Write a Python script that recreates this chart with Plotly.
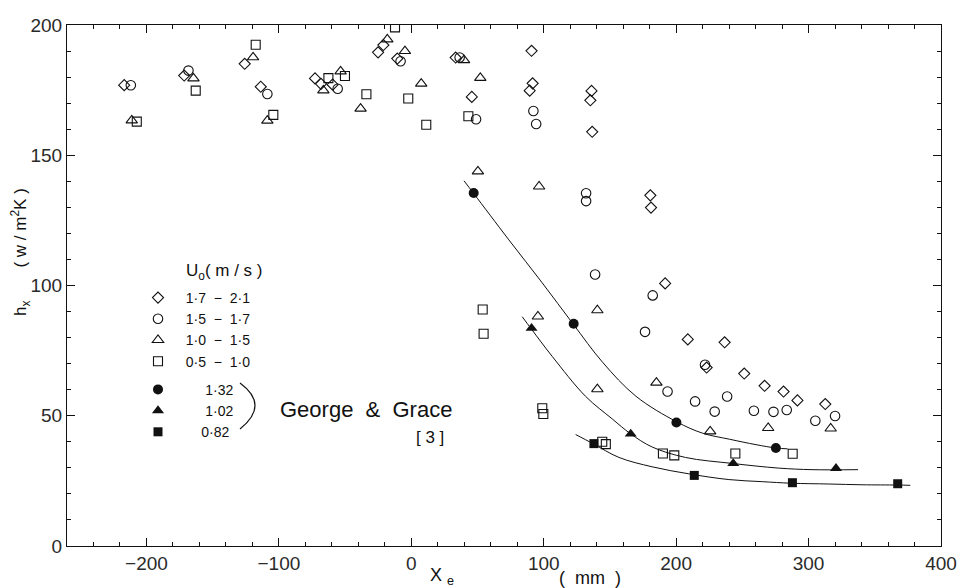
import plotly.graph_objects as go

# ---------------- data ----------------
dia_x = [-216.8, -171.5, -125.8, -113.7, -72.7, -68.2, -59.4, -25.1, -21.1, -10.6, 33.5, 45.7,
         90.8, 91.6, 89.4, 136.1, 135.2, 136.6, 180.5, 181.0, 191.7, 208.8, 236.6, 223.0,
         251.4, 266.8, 281.1, 291.6, 312.6]
dia_y = [176.9, 180.6, 185.1, 176.3, 179.5, 177.4, 177.1, 189.5, 192.3, 187.1, 187.5, 172.4,
         190.1, 177.6, 174.8, 174.7, 171.1, 159.0, 134.6, 129.9, 100.8, 79.3, 78.2, 68.5,
         66.2, 61.5, 59.3, 55.9, 54.5]

cir_x = [-211.8, -168.3, -108.7, -55.6, -8.1, 36.5, 48.9, 92.2, 94.3, 132.0, 132.0, 138.8,
         182.3, 176.5, 221.8, 193.5, 214.3, 229.1, 238.5, 258.7, 273.5, 283.5, 305.1, 320.0]
cir_y = [176.9, 182.5, 173.5, 175.5, 186.1, 187.5, 163.8, 167.0, 162.0, 135.4, 132.4, 104.2,
         96.2, 82.2, 69.6, 59.3, 55.5, 51.6, 57.4, 51.9, 51.5, 52.2, 48.1, 49.9]

tri_x = [-211.1, -164.5, -119.5, -108.7, -66.4, -53.4, -38.3, -18.1, -4.8, 7.5, 39.8, 52.1,
         50.3, 96.5, 95.6, 140.5, 140.5, 185.1, 225.7, 269.5, 316.7]
tri_y = [163.4, 179.5, 187.6, 163.3, 174.9, 182.2, 167.9, 194.5, 190.0, 177.5, 186.5, 179.7,
         143.8, 138.0, 88.1, 90.5, 60.2, 62.7, 44.0, 45.3, 45.1]

sq_x = [-207.3, -162.8, -117.5, -104.2, -62.6, -50.1, -33.9, -12.3, -2.3, 11.3, 43.1,
        53.9, 54.6, 98.9, 99.7, 144.2, 146.9, 190.0, 198.6, 244.7, 288.0]
sq_y = [162.9, 174.8, 192.4, 165.5, 179.6, 180.4, 173.4, 199.1, 171.8, 161.7, 165.0,
        90.8, 81.5, 52.9, 50.7, 40.0, 39.1, 35.5, 34.8, 35.5, 35.4]

gg132_x = [47.1, 122.6, 200.2, 275.3]
gg132_y = [135.5, 85.3, 47.4, 37.6]
gg102_x = [90.8, 165.7, 243.1, 320.7]
gg102_y = [83.6, 43.0, 31.7, 29.8]
gg082_x = [137.9, 213.7, 287.8, 367.3]
gg082_y = [39.3, 27.1, 24.3, 23.9]

fit132_x = [39.8, 47.3, 73.7, 98.9, 122.1, 144.5, 169.6, 200.3, 220.0, 240.2, 260.3, 275.8, 284.2]
fit132_y = [140.2, 135.2, 117.5, 101.0, 85.3, 70.5, 57.5, 47.7, 43.3, 41.0, 38.9, 37.6, 37.3]
fit102_x = [83.8, 90.8, 106.4, 131.5, 151.7, 165.5, 181.9, 207.0, 242.3, 277.5, 302.6, 337.4]
fit102_y = [88.0, 83.2, 72.8, 57.5, 48.8, 43.1, 38.0, 34.0, 31.7, 29.9, 29.3, 29.3]
fit082_x = [124.1, 137.2, 156.8, 181.9, 209.6, 239.8, 265.0, 286.9, 315.2, 340.4, 367.0, 376.8]
fit082_y = [42.8, 39.3, 34.0, 30.4, 27.7, 25.5, 24.7, 24.1, 23.8, 23.5, 23.4, 23.3]

x_ticks = [-200, -100, 0, 100, 200, 300, 400]
y_ticks = [0, 50, 100, 150, 200]

FONT = "Liberation Sans"
INK = "#111"

fig = go.Figure()

def open_trace(x, y, sym, size, name):
    fig.add_trace(go.Scatter(
        x=x, y=y, mode="markers", name=name, legendgroup="a",
        marker=dict(symbol=sym, size=size, color=INK,
                    line=dict(color=INK, width=1.1))))

def filled_trace(x, y, sym, size, name):
    fig.add_trace(go.Scatter(
        x=x, y=y, mode="markers", name=name, legendgroup="b",
        marker=dict(symbol=sym, size=size, color=INK,
                    line=dict(color=INK, width=0))))

def fit_line(x, y):
    fig.add_trace(go.Scatter(
        x=x, y=y, mode="lines", showlegend=False,
        line=dict(color=INK, width=1, shape="spline", smoothing=1.0),
        hoverinfo="skip"))

fit_line(fit132_x, fit132_y)
fit_line(fit102_x, fit102_y)
fit_line(fit082_x, fit082_y)

sp = "&nbsp;"
open_trace(dia_x, dia_y, "diamond-open", 8.5, sp * 2 + "1·7" + sp * 2 + "−" + sp * 2 + "2·1")
open_trace(cir_x, cir_y, "circle-open", 9.5, sp * 2 + "1·5" + sp * 2 + "−" + sp * 2 + "1·7")
open_trace(tri_x, tri_y, "triangle-up-open", 10, sp * 2 + "1·0" + sp * 2 + "−" + sp * 2 + "1·5")
open_trace(sq_x, sq_y, "square-open", 9, sp * 2 + "0·5" + sp * 2 + "−" + sp * 2 + "1·0")
filled_trace(gg132_x, gg132_y, "circle", 10, sp * 7 + "1·32")
filled_trace(gg102_x, gg102_y, "triangle-up", 10.5, sp * 7 + "1·02")
filled_trace(gg082_x, gg082_y, "square", 9, sp * 6 + "0·82")

# figure fills the window; the page's default body margin is removed after plotting
W, H = 959, 588
L, T = 67, 25
R = W - 941
B = H - 546
pw, ph = W - L - R, H - T - B

def px(x):
    return (x - L) / pw

def py(y):
    return (H - B - y) / ph

axis_common = dict(
    showgrid=False, zeroline=False, showline=True, linecolor=INK, linewidth=1.2,
    mirror="allticks", ticks="inside", ticklen=8, tickwidth=1, tickcolor=INK,
    tickfont=dict(family=FONT, size=19, color="#2a2a2a"), automargin=False,
)

fig.update_xaxes(range=[-260, 400], tickvals=x_ticks, ticktext=[str(v).replace("-", "−") for v in x_ticks],
                 minor=dict(dtick=20, ticks="inside", ticklen=4, tickcolor=INK, showgrid=False),
                 **axis_common)
fig.update_yaxes(range=[0, 200], tickvals=y_ticks, ticktext=[str(v) for v in y_ticks],
                 minor=dict(dtick=10, ticks="inside", ticklen=4, tickcolor=INK, showgrid=False),
                 **axis_common)

annots = [
    dict(text="U<sub>o</sub>( m / s )", x=px(224), y=py(272), size=17),
    dict(text="George  &  Grace", x=px(366), y=py(409), size=22),
    dict(text="[ 3 ]", x=px(430), y=py(437), size=17),
    dict(text="X" + sp + "<sub>e</sub>", x=px(442), y=py(576), size=18),
    dict(text="(" + sp * 2 + "mm" + sp * 2 + ")", x=px(590), y=py(578), size=18),
]
for a in annots:
    fig.add_annotation(text=a["text"], x=a["x"], y=a["y"], xref="paper", yref="paper",
                       showarrow=False, xanchor="center", yanchor="middle",
                       font=dict(family=FONT, size=a["size"], color=INK))

fig.add_annotation(text="h<sub>x</sub>" + sp * 7 + "(" + sp + "w" + sp + "/" + sp + "m<sup>2</sup>K" + sp + ")",
                   x=px(20), y=py(252), xref="paper", yref="paper", textangle=-90,
                   showarrow=False, xanchor="center", yanchor="middle",
                   font=dict(family=FONT, size=17, color=INK))

# thin bracket grouping the George & Grace entries
fig.add_shape(type="path", xref="paper", yref="paper",
              path=f"M {px(240)},{py(383)} Q {px(270)},{py(405)} {px(240)},{py(429)}",
              line=dict(color=INK, width=1.2))

fig.update_layout(
    width=W, height=H, autosize=False,
    margin=dict(l=L, r=R, t=T, b=B, pad=0),
    paper_bgcolor="white", plot_bgcolor="white",
    showlegend=True,
    legend=dict(x=px(138), y=py(282), xanchor="left", yanchor="top",
                bgcolor="rgba(0,0,0,0)", borderwidth=0,
                font=dict(family=FONT, size=14, color=INK),
                tracegroupgap=7, traceorder="grouped", itemsizing="trace"),
)

fig.write_html("out.html", config={"displayModeBar": False},
               post_script="document.body.style.margin='0';document.body.style.overflow='hidden';")
